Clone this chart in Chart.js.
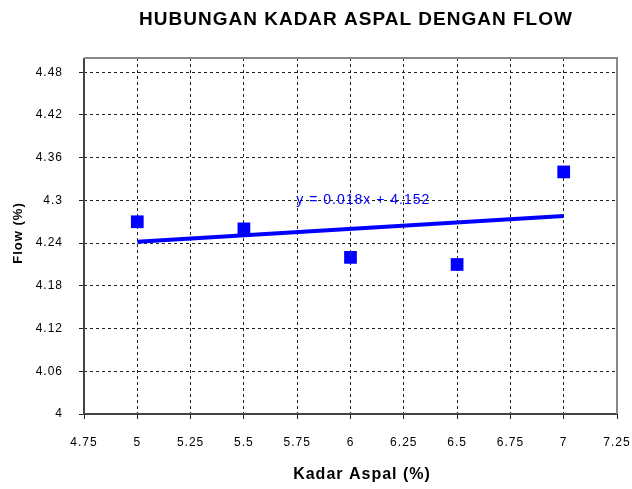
<!DOCTYPE html>
<html lang="en">
<head>
    <meta charset="UTF-8">
    <title>Hubungan Kadar Aspal dengan Flow</title>
    <script src="https://cdn.jsdelivr.net/npm/chart.js"></script>
    <style>
        body { margin: 0; background: #fff; }
        #wrap { width: 632px; height: 489px; }
    </style>
</head>
<body>
<div id="wrap"><canvas id="flowChart" width="632" height="489"></canvas></div>

<script>
    // data
    const kadarAspal = [5, 5.5, 6, 6.5, 7];
    const flow = [4.27, 4.26, 4.22, 4.21, 4.34];
    const trendSlope = 0.018;
    const trendIntercept = 4.152;
    const yTicks = [4, 4.06, 4.12, 4.18, 4.24, 4.3, 4.36, 4.42, 4.48];
    const xTicks = [4.75, 5, 5.25, 5.5, 5.75, 6, 6.25, 6.5, 6.75, 7, 7.25];

    const trendPoints = [kadarAspal[0], kadarAspal[kadarAspal.length - 1]]
        .map(x => ({ x: x, y: trendSlope * x + trendIntercept }));

    const FONT = '"Liberation Sans", Arial';

    // Excel-ish spaced text
    const spacing = {
        id: 'spacing',
        beforeLayout(chart) { chart.ctx.letterSpacing = '1px'; },
        beforeDraw(chart) { chart.ctx.letterSpacing = '1px'; }
    };

    // titles, trendline equation, plot border
    const extras = {
        id: 'extras',
        afterDatasetsDraw(chart) {
            const { ctx, chartArea: a, scales } = chart;
            ctx.save();
            ctx.strokeStyle = '#444';
            ctx.lineWidth = 2;
            ctx.beginPath();
            ctx.moveTo(a.left, a.top);
            ctx.lineTo(a.left, a.bottom);
            ctx.lineTo(a.right, a.bottom);
            ctx.stroke();
            ctx.strokeStyle = '#888';
            ctx.beginPath();
            ctx.moveTo(a.left, a.top);
            ctx.lineTo(a.right, a.top);
            ctx.lineTo(a.right, a.bottom);
            ctx.stroke();

            ctx.textAlign = 'center';
            ctx.textBaseline = 'middle';

            ctx.fillStyle = '#0000ff';
            ctx.font = '14px ' + FONT;
            ctx.fillText('y = 0.018x + 4.152', scales.x.getPixelForValue(6.06), scales.y.getPixelForValue(4.3));

            ctx.fillStyle = '#000';
            ctx.font = 'bold 19px ' + FONT;
            ctx.fillText('HUBUNGAN KADAR ASPAL DENGAN FLOW', 356, 20);

            ctx.font = 'bold 16px ' + FONT;
            ctx.fillText('Kadar Aspal (%)', 362, 475);

            ctx.translate(18, 233);
            ctx.rotate(-Math.PI / 2);
            ctx.font = 'bold 13px ' + FONT;
            ctx.fillText('Flow (%)', 0, 0);
            ctx.restore();
        }
    };

    const tickFont = { family: FONT, size: 12 };

    new Chart(document.getElementById('flowChart'), {
        type: 'scatter',
        data: {
            datasets: [{
                label: 'Flow',
                data: kadarAspal.map((x, i) => ({ x: x, y: flow[i] })),
                pointStyle: 'rect',
                pointRadius: 9,
                pointHoverRadius: 9,
                backgroundColor: '#0000ff',
                borderWidth: 0,
                order: 1
            }, {
                type: 'line',
                label: 'Trend',
                data: trendPoints,
                borderColor: '#0000ff',
                borderWidth: 4,
                pointRadius: 0,
                fill: false,
                order: 2
            }]
        },
        options: {
            responsive: false,
            animation: false,
            layout: { padding: { left: 0, right: 15, top: 58, bottom: 0 } },
            plugins: {
                legend: { display: false },
                tooltip: { enabled: false },
                title: { display: false }
            },
            scales: {
                x: {
                    type: 'linear',
                    min: 4.75,
                    max: 7.25,
                    afterBuildTicks: s => { s.ticks = xTicks.map(v => ({ value: v })); },
                    afterFit: s => { s.height = 75; s.paddingLeft = 0; s.paddingRight = 0; },
                    ticks: { color: '#000', font: tickFont, padding: 16, maxRotation: 0,
                             callback: v => String(v) },
                    grid: { color: '#222', borderDash: [3, 3], lineWidth: 1, tickLength: 5, tickColor: '#222' },
                    border: { display: false, dash: [3, 3] }
                },
                y: {
                    min: 4,
                    max: 4.5,
                    afterBuildTicks: s => { s.ticks = yTicks.map(v => ({ value: v })); },
                    afterFit: s => { s.width = 84; s.paddingTop = 0; s.paddingBottom = 0; },
                    ticks: { color: '#000', font: tickFont, padding: 16,
                             callback: v => String(v) },
                    grid: { color: '#222', borderDash: [3, 3], lineWidth: 1, tickLength: 5, tickColor: '#222' },
                    border: { display: false, dash: [3, 3] }
                }
            }
        },
        plugins: [spacing, extras]
    });
</script>
</body>
</html>
